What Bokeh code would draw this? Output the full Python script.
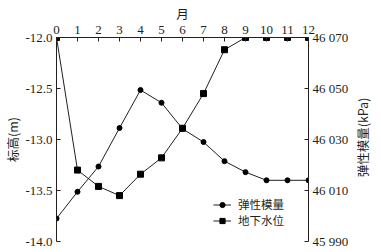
import math
from bokeh.plotting import figure
from bokeh.models import Range1d, LinearAxis, FixedTicker, Legend, LegendItem, Label
from bokeh.embed import file_html
from bokeh.resources import INLINE

months = [0, 1, 2, 3, 4, 5, 6, 7, 8, 9, 10, 11, 12]
water_level = [-12.0, -13.30, -13.46, -13.55, -13.34, -13.18, -12.89, -12.55, -12.12, -12.0, -12.0, -12.0, -12.0]
modulus = [45999.0, 46009.5, 46019.4, 46034.5, 46049.4, 46044.4, 46034.2, 46029.0, 46021.5, 46017.2, 46014.0, 46014.0, 46014.0]

left_ticks = [-14.0, -13.5, -13.0, -12.5, -12.0]
left_labels = ["-14.0", "-13.5", "-13.0", "-12.5", "-12.0"]
right_ticks = [45990, 46010, 46030, 46050, 46070]
right_labels = ["45 990", "46 010", "46 030", "46 050", "46 070"]

INK = "#231f20"
SERIF = "Liberation Serif"
CJK = "Noto Sans CJK SC"

p = figure(frame_width=252, frame_height=204, min_border_left=49, min_border_top=29,
           min_border_right=64, min_border_bottom=10,
           x_range=Range1d(0, 12), y_range=Range1d(-14.0, -12.0),
           x_axis_location="above", output_backend="svg", toolbar_location=None)
p.extra_y_ranges = {"mod": Range1d(45990, 46070)}
p.outline_line_color = None
p.grid.visible = False
p.background_fill_color = "white"

def style_axis(ax):
    ax.axis_line_color = INK
    ax.axis_line_width = 1
    ax.major_tick_line_color = INK
    ax.major_tick_in = 4
    ax.major_tick_out = 0
    ax.minor_tick_line_color = None
    ax.major_label_text_font = SERIF
    ax.major_label_text_font_size = "13px"
    ax.major_label_text_color = INK
    ax.axis_label_text_font = CJK
    ax.axis_label_text_font_size = "12.5px"
    ax.axis_label_text_font_style = "normal"
    ax.axis_label_text_color = INK

xa = p.xaxis[0]
style_axis(xa)
xa.ticker = FixedTicker(ticks=months)
xa.axis_label = "月"
xa.major_label_standoff = 4
xa.axis_label_standoff = 0

ya = p.yaxis[0]
style_axis(ya)
ya.ticker = FixedTicker(ticks=left_ticks)
ya.major_label_overrides = dict(zip(left_ticks, left_labels))
ya.axis_label = "标高(m)"
ya.major_label_standoff = 4
ya.axis_label_standoff = 0

ra = LinearAxis(y_range_name="mod")
style_axis(ra)
ra.ticker = FixedTicker(ticks=right_ticks)
ra.major_label_overrides = {t: l for t, l in zip(right_ticks, right_labels)}
ra.major_label_standoff = 4
p.add_layout(ra, "right")

right_title = Label(x=11, y=104, x_units="screen", y_units="screen",
                    text="弹性模量(kPa)", angle=math.pi / 2,
                    text_align="center", text_baseline="middle",
                    text_font=CJK, text_font_size="12.5px", text_color=INK)
p.add_layout(right_title, "right")

l1 = p.line(months, modulus, y_range_name="mod", line_color=INK, line_width=1)
s1 = p.scatter(months, modulus, y_range_name="mod", marker="circle", size=5,
               fill_color="black", line_color="black")
l2 = p.line(months, water_level, line_color=INK, line_width=1)
s2 = p.scatter(months, water_level, marker="square", size=6,
               fill_color="black", line_color="black")

legend = Legend(items=[LegendItem(label="弹性模量", renderers=[l1, s1]),
                       LegendItem(label="地下水位", renderers=[l2, s2])],
                location=(157, 13), padding=0, margin=0, spacing=0,
                glyph_width=18, glyph_height=13, label_standoff=7,
                label_text_font=CJK, label_text_font_size="11.5px",
                label_text_color=INK, label_height=13,
                border_line_color=None, background_fill_alpha=0)
p.add_layout(legend, "center")

open("out.html", "w").write(file_html(p, INLINE))
